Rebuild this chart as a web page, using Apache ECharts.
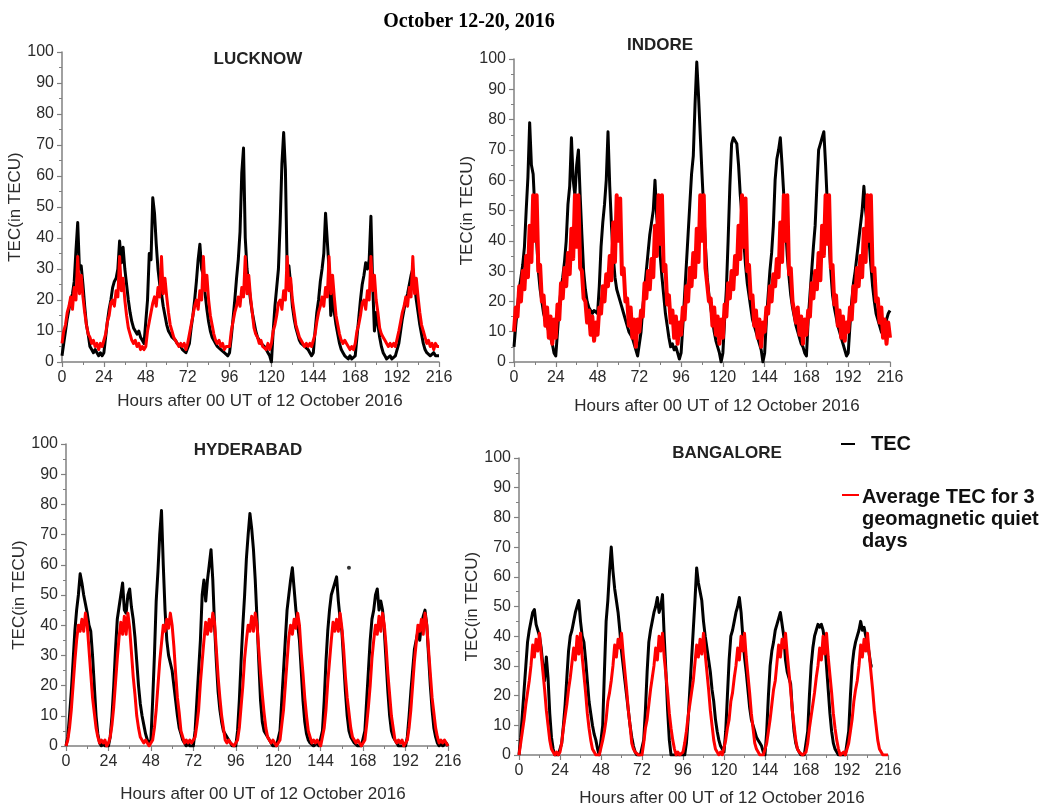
<!DOCTYPE html>
<html>
<head>
<meta charset="utf-8">
<script src="https://cdn.jsdelivr.net/npm/echarts@6/dist/echarts.min.js"></script>
<style>
html,body{margin:0;padding:0;background:#ffffff;}
#chart{width:1053px;height:809px;}
</style>
</head>
<body>
<div id="chart"></div>
<script>
// ---------------- DATA (hourly TEC values, hour 0 .. 216) ----------------
const mainTitle = 'October 12-20, 2016';
const stationNames = ['LUCKNOW', 'INDORE', 'HYDERABAD', 'BANGALORE'];
const xAxisTitle = 'Hours after 00 UT of 12 October 2016';
const yAxisTitle = 'TEC(in TECU)';
const legendLabels = ['TEC', 'Average TEC for 3\ngeomagnetic quiet\ndays'];

const lucknowTEC = [
  2,6,10,14,17,20,22,26,36,45,30,31,25,18,12,9,5,4,3,4,3,2,3,2,
  3,8,13,17,20,24,26,27,30,39,32,37,30,25,20,16,13,11,10,9,10,8,7,6,
  6,20,35,33,53,48,38,30,25,22,18,15,12,10,9,8,8,7,6,6,5,4,4,3,
  3,6,11,15,20,26,33,38,30,28,22,17,13,10,8,7,6,5,5,4,4,3,3,2,
  3,8,14,20,27,33,42,61,69,40,30,25,20,16,13,10,8,7,6,6,5,4,3,2,
  0,10,18,24,30,45,64,74,62,30,31,25,18,14,11,9,7,6,6,5,5,4,3,2,
  3,10,16,20,26,30,35,48,48,30,15,22,16,12,9,6,4,3,2,2,1,2,1,1,
  2,8,14,20,25,28,32,30,33,47,25,10,16,12,8,5,3,2,1,1,2,1,1,2,
  2,6,10,14,17,20,22,25,28,30,25,20,16,12,9,6,4,3,3,2,2,3,2,2,
  2
];
const lucknowQuiet = [
  6,10,12,16,18,21,17,24,20,34,22,28,21,16,12,9,8,6,7,5,6,4,6,5,
  5,9,13,15,19,20,18,23,21,34,23,27,20,15,11,9,7,6,7,5,6,4,5,4,
  5,10,13,16,19,21,18,24,21,34,22,27,21,16,12,10,8,7,6,5,6,5,6,4,
  6,9,12,15,18,20,17,23,20,34,23,28,20,15,12,9,7,6,7,5,6,4,5,5,
  5,10,13,16,18,21,18,24,21,34,22,28,21,16,11,9,8,6,7,5,5,4,6,4,
  6,10,12,15,19,20,17,23,20,34,23,27,20,16,12,10,8,7,6,5,6,5,6,5,
  5,9,13,16,18,21,18,24,21,34,22,28,21,15,12,9,7,6,7,6,6,4,5,4,
  6,10,12,15,19,20,17,23,20,34,23,28,20,16,11,9,8,7,6,5,6,5,6,5,
  5,10,13,16,18,21,18,24,21,34,22,27,21,16,12,10,8,6,7,5,6,4,6,5,
  5
];

const indoreTEC = [
  5,12,18,24,28,32,38,50,61,79,65,62,50,40,30,24,20,16,14,12,10,8,6,3,
  2,10,18,24,28,33,40,52,58,74,60,55,65,70,55,42,30,24,20,18,17,16,17,17,
  16,25,38,46,52,60,76,58,45,35,28,24,22,20,18,16,14,12,10,9,8,6,4,2,
  2,10,18,24,30,36,42,46,50,60,48,42,35,28,22,16,12,8,5,6,4,5,3,1,
  3,12,22,32,42,52,62,68,85,99,88,75,62,50,38,28,22,18,14,10,7,5,3,0,
  3,14,24,40,58,72,74,73,72,65,55,48,40,32,26,22,18,14,12,10,8,6,4,0,
  3,14,22,30,36,45,60,67,70,74,65,55,45,35,28,22,18,15,12,10,8,6,5,3,
  2,14,22,30,38,45,58,70,72,74,76,65,52,40,30,22,18,15,12,10,8,6,4,2,
  3,12,20,26,30,35,40,45,50,58,50,45,40,32,25,20,16,14,12,10,9,11,14,16,
  17
];
const indoreQuiet = [
  10,18,15,25,20,30,24,35,28,45,33,55,40,55,30,32,20,22,12,18,8,15,6,14,
  8,19,14,26,21,31,25,36,29,44,34,55,38,55,31,30,21,20,13,17,9,15,7,13,
  9,18,16,25,20,29,25,35,27,46,33,55,40,54,29,31,20,21,12,18,8,14,5,14,
  10,17,15,26,21,30,24,34,28,45,35,55,39,55,30,32,19,22,13,17,8,15,6,13,
  9,18,14,25,20,31,25,36,28,44,33,55,40,55,31,31,20,21,12,18,9,15,6,14,
  8,19,15,26,21,30,24,35,29,45,34,55,38,54,30,32,21,22,12,17,8,14,5,13,
  10,18,16,25,20,29,25,34,28,46,33,55,40,55,29,31,20,20,13,18,9,15,6,14,
  9,17,15,26,21,30,24,36,27,45,35,55,39,55,31,32,19,22,12,17,8,15,7,13,
  10,18,14,25,20,31,25,35,28,44,33,55,40,55,30,31,20,21,13,18,8,14,6,13,
  8
];

const hyderabadTEC = [
  0,3,10,18,28,38,45,50,57,54,50,47,44,40,38,30,20,10,4,1,0,1,0,0,
  0,3,10,20,32,42,46,50,54,45,44,50,52,46,42,36,28,20,14,10,7,4,2,1,
  2,15,30,48,58,70,78,60,45,35,30,30,25,20,15,10,6,4,2,1,0,1,0,0,
  0,5,15,25,35,50,55,48,55,60,65,55,40,28,18,12,8,5,4,3,2,1,0,0,
  0,5,15,28,40,50,62,70,77,72,65,55,42,28,15,8,5,4,3,2,1,0,0,0,
  0,5,15,25,35,45,50,55,59,52,45,40,35,25,15,8,4,2,1,1,0,0,1,0,
  0,5,15,28,38,45,50,52,54,56,48,42,38,28,18,10,5,3,2,1,1,0,0,0,
  0,5,15,25,35,42,45,50,52,45,48,45,38,28,18,10,5,3,2,1,0,0,0,0,
  0,3,10,18,25,32,35,38,35,40,43,45,40,30,20,12,6,3,1,0,1,0,0,1,
  0
];
const hyderabadQuiet = [
  0,2,6,12,20,28,35,40,38,42,38,44,40,32,24,16,11,6,3,1,2,1,2,0,
  1,3,7,13,21,29,36,41,37,43,37,44,39,31,23,17,10,6,3,2,1,2,1,0,
  0,2,6,12,20,28,34,40,38,42,39,44,40,33,24,16,11,5,3,1,2,1,2,1,
  1,3,7,12,21,28,35,41,37,42,38,44,41,32,23,16,10,6,2,1,2,1,1,0,
  0,2,6,13,20,29,35,40,38,43,38,44,40,32,24,17,11,6,3,2,1,2,2,0,
  1,2,7,12,20,28,36,40,37,42,39,44,40,31,24,16,10,5,3,1,2,1,2,1,
  0,3,6,12,21,28,35,41,38,42,38,44,39,32,23,16,11,6,3,2,1,2,1,0,
  1,2,7,13,20,29,35,40,37,43,38,44,40,33,24,17,10,6,2,1,2,1,2,0,
  0,2,6,12,20,28,34,40,38,42,37,44,40,32,24,16,11,6,3,1,2,1,2,1,
  0
];
const hyderabadStrayPoint = [[160, 59]];

const bangaloreTEC = [
  0,6,14,22,30,38,42,45,48,49,44,42,40,36,30,25,33,26,14,6,2,0,0,0,
  0,4,10,17,26,35,40,42,45,48,50,52,45,40,38,32,25,18,14,10,7,5,2,0,
  0,10,28,45,52,62,70,62,56,52,48,42,35,30,25,20,15,10,6,3,1,0,0,0,
  0,5,15,28,38,42,45,48,50,53,48,50,54,40,28,15,5,0,0,0,0,0,0,0,
  0,0,4,12,22,32,42,52,63,58,55,52,45,40,36,32,28,22,18,12,8,5,3,2,
  1,8,20,32,40,42,45,48,50,53,48,40,33,28,22,16,12,10,8,6,5,4,3,1,
  0,8,20,30,35,38,42,44,46,48,44,40,32,28,26,24,15,8,4,2,1,0,0,0,
  0,8,20,30,36,40,42,44,43,44,42,38,30,22,14,8,4,2,1,0,0,0,0,0,
  0,8,20,30,35,38,40,42,45,42,43,40,38,34,30,30,null,null,null,null,null,null,null,null,
  null
];
const bangaloreQuiet = [
  0,4,8,12,17,21,25,30,37,33,39,35,41,34,28,22,15,10,5,2,1,0,1,0,
  1,4,9,13,17,22,26,31,36,32,40,34,41,33,27,21,14,9,5,2,1,0,0,0,
  0,5,8,12,18,21,25,30,37,33,39,36,41,34,28,22,15,10,4,2,1,1,0,0,
  0,4,9,12,17,22,26,30,36,32,40,35,41,33,27,21,14,9,5,2,0,1,0,0,
  1,4,8,13,17,21,25,31,37,33,39,34,41,34,28,22,15,10,5,2,1,0,1,0,
  0,5,9,12,18,21,26,30,36,32,40,35,41,33,27,21,14,9,4,2,1,0,0,0,
  0,4,8,12,17,22,25,31,37,33,39,36,41,34,28,22,15,10,5,2,1,1,0,0,
  1,4,9,13,17,21,26,30,36,32,40,34,41,33,27,21,14,9,5,2,0,0,1,0,
  0,4,8,12,18,22,25,30,37,33,39,35,41,34,28,22,15,10,5,2,1,0,0,0,
  0
];

// ---------------- LAYOUT / STYLE ----------------
const tecSeries = [lucknowTEC, indoreTEC, hyderabadTEC, bangaloreTEC];
const quietSeries = [lucknowQuiet, indoreQuiet, hyderabadQuiet, bangaloreQuiet];

const panels = [
  {grid:{left:62, top:52, width:377, height:310}, tx:253, ty:46, yGap:31, xGap:31, xPad:19, bw:3, rw:3},
  {grid:{left:514, top:59, width:376, height:303}, tx:655, ty:32, yGap:35, xGap:36, xPad:30, bw:3, rw:4},
  {grid:{left:66, top:444, width:382, height:302}, tx:243, ty:437, yGap:31, xGap:40, xPad:12, bw:3, rw:3},
  {grid:{left:519, top:458, width:369, height:297}, tx:722, ty:440, yGap:38, xGap:35, xPad:37, bw:3, rw:3}
];

const AX = '#808080';
const TXT = '#2b2b2b';
const SANS = '"Liberation Sans", Arial, sans-serif';

const toPairs = arr => arr.map((v, i) => [i, v]);

const grids = [], xAxes = [], yAxes = [], titles = [], series = [];

titles.push({
  text: mainTitle, left: 464, top: 7, textAlign: 'center',
  textStyle: {fontFamily: '"Liberation Serif", "Times New Roman", serif', fontWeight: 'bold', fontSize: 20, color: '#000'}
});

panels.forEach((p, k) => {
  grids.push(Object.assign({containLabel: false, outerBoundsMode: 'none'}, p.grid));
  titles.push({
    text: stationNames[k], left: p.tx, top: p.ty, textAlign: 'center',
    textStyle: {fontFamily: SANS, fontWeight: 'bold', fontSize: 17, color: '#222'}
  });
  xAxes.push({
    gridIndex: k, type: 'value', min: 0, max: 216, interval: 24,
    axisLine: {show: true, onZero: false, lineStyle: {color: AX, width: 1.5}},
    axisTick: {show: true, length: 5, lineStyle: {color: AX, width: 1.2}},
    minorTick: {show: true, splitNumber: 2, length: 3, lineStyle: {color: AX, width: 1}},
    splitLine: {show: false},
    axisLabel: {fontFamily: SANS, fontSize: 16, color: TXT, margin: 8},
    name: xAxisTitle, nameLocation: 'middle', nameGap: p.xGap,
    nameTextStyle: {fontFamily: SANS, fontSize: 17, color: TXT, padding: [0, 0, 0, p.xPad]}
  });
  yAxes.push({
    gridIndex: k, type: 'value', min: 0, max: 100, interval: 10,
    axisLine: {show: true, onZero: false, lineStyle: {color: AX, width: 1.5}},
    axisTick: {show: true, length: 5, lineStyle: {color: AX, width: 1.2}},
    minorTick: {show: true, splitNumber: 2, length: 3, lineStyle: {color: AX, width: 1}},
    splitLine: {show: false},
    axisLabel: {fontFamily: SANS, fontSize: 16, color: TXT, margin: 8},
    name: yAxisTitle, nameLocation: 'middle', nameGap: p.yGap,
    nameTextStyle: {fontFamily: SANS, fontSize: 17, color: TXT}
  });
  series.push({
    name: 'TEC', type: 'line', xAxisIndex: k, yAxisIndex: k,
    data: toPairs(tecSeries[k]), symbol: 'none', showSymbol: false,
    connectNulls: false, sampling: null,
    lineStyle: {color: '#000000', width: p.bw, join: 'round'}, itemStyle: {color: '#000000'},
    z: 2
  });
  series.push({
    name: 'Average TEC', type: 'line', xAxisIndex: k, yAxisIndex: k,
    data: toPairs(quietSeries[k]), symbol: 'none', showSymbol: false,
    lineStyle: {color: '#ff0000', width: p.rw, join: 'round'}, itemStyle: {color: '#ff0000'},
    z: 3
  });
});

series.push({
  name: 'TEC', type: 'scatter', xAxisIndex: 2, yAxisIndex: 2,
  data: hyderabadStrayPoint, symbolSize: 4, itemStyle: {color: '#000'}, z: 4
});

const chart = echarts.init(document.getElementById('chart'), null, {renderer: 'canvas'});
chart.setOption({
  animation: false,
  backgroundColor: '#ffffff',
  title: titles,
  grid: grids,
  xAxis: xAxes,
  yAxis: yAxes,
  series: series,
  graphic: [
    {type: 'line', shape: {x1: 841, y1: 444, x2: 855, y2: 444}, style: {stroke: '#000', lineWidth: 2}},
    {type: 'text', x: 871, y: 444, style: {text: legendLabels[0], fontFamily: SANS, fontWeight: 'bold', fontSize: 20, fill: '#111', verticalAlign: 'middle'}},
    {type: 'line', shape: {x1: 842, y1: 495, x2: 859, y2: 495}, style: {stroke: '#ff0000', lineWidth: 2}},
    {type: 'text', x: 862, y: 486, style: {text: legendLabels[1], fontFamily: SANS, fontWeight: 'bold', fontSize: 20, lineHeight: 22, fill: '#111', verticalAlign: 'top'}}
  ]
});
</script>
</body>
</html>
